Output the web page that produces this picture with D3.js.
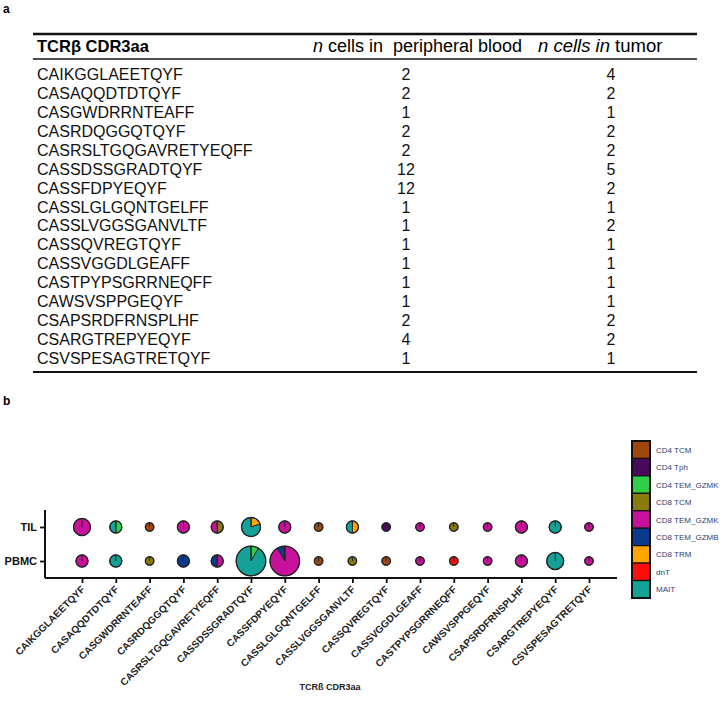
<!DOCTYPE html>
<html><head><meta charset="utf-8">
<script src="https://cdn.jsdelivr.net/npm/d3@7"></script>
<style>body{margin:0;background:#fff;} svg{display:block;font-family:"Liberation Sans",Arial,sans-serif;}</style>
</head><body>
<svg id="chart" width="720" height="704"></svg>
<script>
const clones = ["CAIKGGLAEETQYF","CASAQQDTDTQYF","CASGWDRRNTEAFF","CASRDQGGQTQYF","CASRSLTGQGAVRETYEQFF","CASSDSSGRADTQYF","CASSFDPYEQYF","CASSLGLGQNTGELFF","CASSLVGGSGANVLTF","CASSQVREGTQYF","CASSVGGDLGEAFF","CASTPYPSGRRNEQFF","CAWSVSPPGEQYF","CSAPSRDFRNSPLHF","CSARGTREPYEQYF","CSVSPESAGTRETQYF"];
const bloodCounts = [2,2,1,2,2,12,12,1,1,1,1,1,1,2,4,1];
const tumorCounts = [4,2,1,2,2,5,2,1,2,1,1,1,1,2,2,1];
const cellTypes = ["CD4 TCM","CD4 Tph","CD4 TEM_GZMK","CD8 TCM","CD8 TEM_GZMK","CD8 TEM_GZMB","CD8 TRM","dnT","MAIT"];
const cellColors = ["#a0470e","#4a0a5c","#2fcf4a","#877b0c","#c8119b","#0b3a8c","#ffa500","#ff0d0d","#14a198"];
// composition of each clone's cells (cell type -> count)
const tilMix = [
 {"CD8 TEM_GZMK":4},{"CD4 TEM_GZMK":1,"MAIT":1},{"CD4 TCM":1},{"CD8 TEM_GZMK":2},
 {"CD8 TCM":1,"CD8 TEM_GZMK":1},{"CD8 TRM":1,"MAIT":4},{"CD8 TEM_GZMK":2},{"CD4 TCM":1},
 {"CD8 TRM":1,"MAIT":1},{"CD4 Tph":1},{"CD8 TEM_GZMK":1},{"CD8 TCM":1},
 {"CD8 TEM_GZMK":1},{"CD8 TEM_GZMK":2},{"MAIT":2},{"CD8 TEM_GZMK":1}];
const pbmcMix = [
 {"CD8 TEM_GZMK":2},{"MAIT":2},{"CD8 TCM":1},{"CD8 TEM_GZMB":2},
 {"CD8 TEM_GZMK":1,"CD8 TEM_GZMB":1},{"CD4 TEM_GZMK":1,"MAIT":11},{"CD8 TEM_GZMK":11,"CD8 TEM_GZMB":1},{"CD4 TCM":1},
 {"CD8 TCM":1},{"CD4 TCM":1},{"CD8 TEM_GZMK":1},{"dnT":1},
 {"CD8 TEM_GZMK":1},{"CD8 TEM_GZMK":2},{"MAIT":4},{"CD8 TEM_GZMK":1}];
const samples = ["TIL","PBMC"];

const svg = d3.select("#chart");
const ink = "#111";

// ---------- panel a : table ----------
svg.append("text").attr("x",3).attr("y",13).attr("font-size",12).attr("font-weight","bold").text("a");
const tL = 33, tR = 697;
const rowY = d3.scalePoint().domain(clones).range([74, 358]);
svg.append("line").attr("x1",tL).attr("x2",tR).attr("y1",34).attr("y2",34).attr("stroke",ink).attr("stroke-width",2.4);
svg.append("line").attr("x1",tL).attr("x2",tR).attr("y1",59).attr("y2",59).attr("stroke",ink).attr("stroke-width",1.5);
svg.append("line").attr("x1",tL).attr("x2",tR).attr("y1",372).attr("y2",372).attr("stroke",ink).attr("stroke-width",2);
const hdrY = 52;
svg.append("text").attr("x",37).attr("y",hdrY).attr("font-size",16.5).attr("font-weight","bold").text("TCRβ CDR3aa");
const h2 = svg.append("text").attr("x",313).attr("y",hdrY).attr("font-size",18).attr("xml:space","preserve");
h2.append("tspan").attr("font-style","italic").text("n");
h2.append("tspan").text(" cells in  peripheral blood");
const h3 = svg.append("text").attr("x",538).attr("y",hdrY).attr("font-size",18.5);
h3.append("tspan").attr("font-style","italic").text("n cells in");
h3.append("tspan").text(" tumor");
const rows = svg.append("g").attr("font-size",16).attr("fill","#111");
rows.selectAll("text.c").data(clones).join("text").attr("class","c")
  .attr("x",37).attr("y",d=>rowY(d)+6).text(d=>d);
rows.selectAll("text.b").data(clones).join("text").attr("class","b")
  .attr("x",406).attr("y",d=>rowY(d)+6).attr("text-anchor","middle").text((d,i)=>bloodCounts[i]);
rows.selectAll("text.t").data(clones).join("text").attr("class","t")
  .attr("x",611).attr("y",d=>rowY(d)+6).attr("text-anchor","middle").text((d,i)=>tumorCounts[i]);

// ---------- panel b : pie dot plot ----------
svg.append("text").attr("x",3).attr("y",405).attr("font-size",12).attr("font-weight","bold").text("b");
const x = d3.scalePoint().domain(clones).range([82, 589]);
const y = d3.scalePoint().domain(samples).range([527, 561]);
const r = d3.scaleSqrt().domain([0,12]).range([0,14.8]);
const color = d3.scaleOrdinal().domain(cellTypes).range(cellColors);
const axisLeftX = 45, axisBottomY = 578;

const xAxis = d3.axisBottom(x).tickSize(5).tickSizeOuter(0);
const gx = svg.append("g").attr("transform",`translate(0,${axisBottomY})`).call(xAxis);
gx.select(".domain").attr("d",`M${axisLeftX},0H617`).attr("stroke",ink).attr("stroke-width",2);
gx.selectAll(".tick line").attr("stroke",ink).attr("stroke-width",1.8);
gx.selectAll(".tick text").attr("font-size",10).attr("font-weight","bold").attr("font-family","Liberation Sans, Arial, sans-serif")
  .attr("fill","#222").attr("text-anchor","end").attr("dy",0).attr("y",0)
  .attr("transform","translate(3,12) rotate(-45)");

const yAxis = d3.axisLeft(y).tickSize(5).tickSizeOuter(0);
const gy = svg.append("g").attr("transform",`translate(${axisLeftX},0)`).call(yAxis);
gy.select(".domain").attr("d",`M0,510V${axisBottomY}`).attr("stroke",ink).attr("stroke-width",2);
gy.selectAll(".tick line").attr("stroke",ink).attr("stroke-width",1.8);
gy.selectAll(".tick text").attr("font-size",11).attr("font-weight","bold").attr("font-family","Liberation Sans, Arial, sans-serif").attr("fill","#111");

svg.append("text").attr("x",330).attr("y",690).attr("text-anchor","middle").attr("font-size",9).attr("font-weight","bold").attr("fill","#222").text("TCRß CDR3aa");

const pie = d3.pie().sort(null).value(d=>d.n);
const pieData = [];
clones.forEach((c,i)=>{
  [["TIL",tilMix[i],tumorCounts[i]],["PBMC",pbmcMix[i],bloodCounts[i]]].forEach(([s,mix,total])=>{
    const parts = cellTypes.filter(t=>mix[t]).map(t=>({type:t,n:mix[t]}));
    pieData.push({clone:c,sample:s,total,parts});
  });
});
const pies = svg.append("g").selectAll("g").data(pieData).join("g")
  .attr("transform",d=>`translate(${x(d.clone)},${y(d.sample)})`);
pies.each(function(d){
  const g = d3.select(this);
  const R = r(d.total);
  const arc = d3.arc().innerRadius(0).outerRadius(R);
  g.selectAll("path").data(pie(d.parts)).join("path")
    .attr("d",arc).attr("fill",p=>color(p.data.type)).attr("stroke","#222").attr("stroke-width",0.9);
  g.append("circle").attr("r",R).attr("fill","none").attr("stroke","#222").attr("stroke-width",1.2);
  g.append("line").attr("x1",0).attr("y1",0).attr("x2",0).attr("y2",-R).attr("stroke","#222").attr("stroke-width",1);
});

// legend
const legY = d3.scaleBand().domain(cellTypes).range([441, 598]);
const leg = svg.append("g");
leg.selectAll("rect").data(cellTypes).join("rect")
  .attr("x",632).attr("y",d=>legY(d)).attr("width",18).attr("height",legY.bandwidth())
  .attr("fill",d=>color(d)).attr("stroke",ink).attr("stroke-width",1.2);
leg.append("rect").attr("x",632).attr("y",441).attr("width",18).attr("height",157).attr("fill","none").attr("stroke",ink).attr("stroke-width",2);
leg.selectAll("text").data(cellTypes).join("text")
  .attr("x",656).attr("y",d=>legY(d)+legY.bandwidth()/2+3).attr("font-size",8).attr("fill","#2e3f70").text(d=>d);
</script>
</body></html>
